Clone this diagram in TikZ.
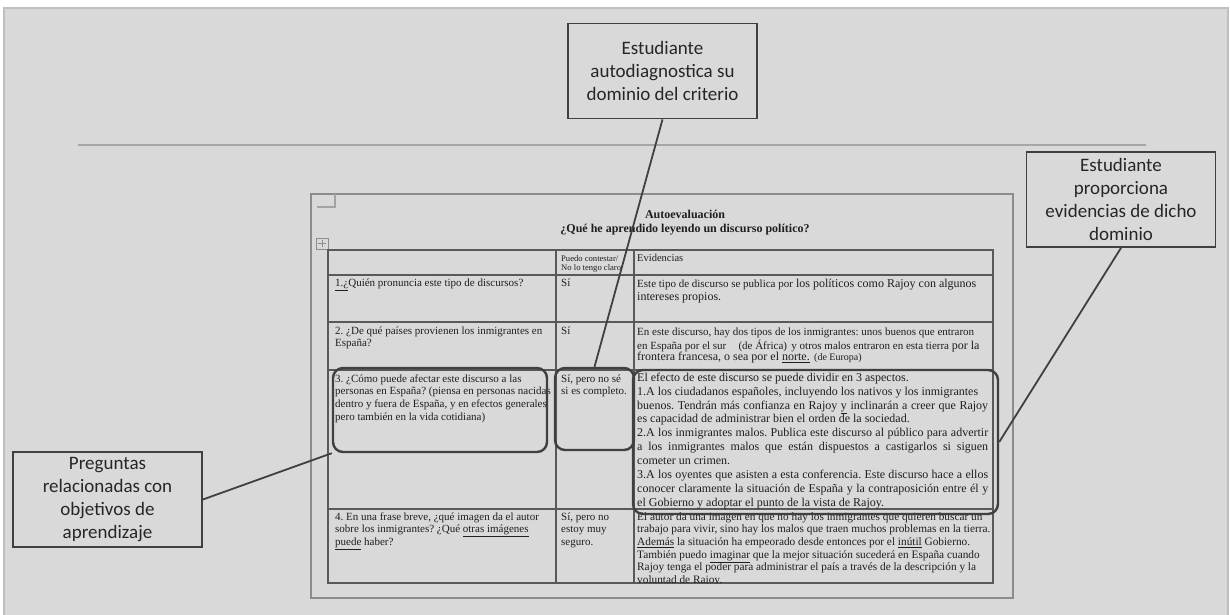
\documentclass[tikz,border=0pt]{standalone}
\usepackage{fontspec}
\setmainfont{Liberation Serif}
\newfontfamily\calloutfont{Carlito}
\definecolor{panel}{HTML}{D9D9D9}
\definecolor{panelrim}{HTML}{BFBFBF}
\definecolor{rulegray}{HTML}{A6A6A6}
\definecolor{pagegray}{HTML}{8C8C8C}
\definecolor{boxgray}{HTML}{404040}
\definecolor{gridgray}{HTML}{595959}
\definecolor{inkgray}{HTML}{1F1F1F}
\newcommand\qfont{\fontsize{11}{12.65}\selectfont}
\newcommand\jst[1]{\hbox to 351pt{#1}}
\frenchspacing

\begin{document}
\begin{tikzpicture}
  [
    x=1pt, y=-1pt,
    callout/.style   = {draw=boxgray, line width=1.8pt, fill=panel, inner sep=0pt,
                        minimum width=189pt, minimum height=95pt, align=center,
                        text=black!85, font=\calloutfont\fontsize{19}{22.8}\selectfont},
    hilite/.style    = {draw=boxgray, line width=2.4pt, rounded corners=10pt, inner sep=0pt},
    connector/.style = {draw=boxgray, line width=1.8pt},
    tablerule/.style = {draw=gridgray, line width=1.3pt},
    txtcell/.style   = {anchor=north west, inner sep=0pt, align=left},
  ]

  \tikzstyle{every node}=[text=inkgray]

  % the screen
  \useasboundingbox (0,0) rectangle (1230,615);
  \fill[white] (0,0) rectangle (1230,615);
  \draw[panelrim, fill=panel, line width=1.5pt] (4,8) rectangle (1228,618);
  \draw[rulegray, line width=1.5pt] (78,145) -- (1146,145);

  % the page
  \draw[pagegray, line width=1.3pt] (311,194) rectangle (1013,598);
  \draw[pagegray!80, line width=1.2pt] (335,194) -- (335,207) -- (317,207);
  \draw[pagegray, line width=1pt] (316,238) rectangle (328,249);
  \draw[pagegray, line width=1pt] (322,240) -- (322,247) (318,243.5) -- (326,243.5);

  \node (title) at (685,218) [anchor=base, font=\bfseries\fontsize{12}{14}\selectfont] {Autoevaluación};
  \node (subtitle) at (685,232) [anchor=base, font=\bfseries\fontsize{12}{14}\selectfont] {¿Qué he aprendido leyendo un discurso político?};

  % the table
  \def\colA{328}
  \def\colB{556}
  \def\colC{634}
  \def\colD{993}
  \draw[tablerule] (\colA,250) rectangle (\colD,583);
  \foreach \y in {275,322,370,509}
    \draw[tablerule] (\colA,\y) -- (\colD,\y);
  \foreach \x in {\colB,\colC}
    \draw[tablerule] (\x,250) -- (\x,583);

  \node (hdans) at (561,255.5) [txtcell, font=\fontsize{8.6}{8.7}\selectfont] {\strut Puedo contestar/\\No lo tengo claro};
  \node (hdev) at (637,261) [anchor=base west, inner sep=0pt, font=\fontsize{10.5}{12}\selectfont] {Evidencias};

  \node (q1) at (335,277.1) [txtcell, font=\qfont] {\strut\underline{1.¿}Quién pronuncia este tipo de discursos?};
  \node (q2) at (335,325.1) [txtcell, font=\qfont] {\strut 2. ¿De qué países provienen los inmigrantes en\\España?};
  \node (q3) at (335,373.1) [txtcell, font=\qfont] {\strut 3. ¿Cómo puede afectar este discurso a las\\personas en España? (piensa en personas nacidas\\dentro y fuera de España, y en efectos generales\\pero también en la vida cotidiana)};
  \node (q4) at (335,511.1) [txtcell, font=\qfont] {\strut 4. En una frase breve, ¿qué imagen da el autor\\sobre los inmigrantes? ¿Qué \underline{otras imágenes}\\\underline{puede} haber?};

  \node (a1) at (561,277.1) [txtcell, font=\qfont] {\strut Sí};
  \node (a2) at (561,325.1) [txtcell, font=\qfont] {\strut Sí};
  \node (a3) at (561,373.1) [txtcell, font=\qfont] {\strut Sí, pero no sé\\si es completo.};
  \node (a4) at (561,511.1) [txtcell, font=\qfont] {\strut Sí, pero no\\estoy muy\\seguro.};

  \node (e1) at (637,277.9) [txtcell, font=\fontsize{12}{13}\selectfont] {\strut{\fontsize{11}{13}\selectfont Este tipo de discurso se publica por} los políticos como Rajoy con algunos\\intereses propios.};
  \node (e2) at (637,326.7) [txtcell, font=\fontsize{11}{11.8}\selectfont] {\strut En este discurso, hay dos tipos de los inmigrantes: unos buenos que entraron\\en España por el sur\hspace{1.1em}(de África)\hspace{0.4em}y otros malos entraron en esta tierra {\fontsize{12}{11.8}\selectfont por la}\\{\fontsize{12}{11.8}\selectfont frontera francesa, o sea por el \underline{norte.}}\hspace{0.4em}{\fontsize{10}{11.8}\selectfont(de Europa)}};
  \node (e3) at (637,371.3) [txtcell, font=\fontsize{12}{13.9}\selectfont] {\strut El efecto de este discurso se puede dividir en 3 aspectos.\\
    1.A los ciudadanos españoles, incluyendo los nativos y los inmigrantes\\
    \jst{buenos. Tendrán más confianza en Rajoy \underline{y} inclinarán a creer que Rajoy}\\
    es capacidad de administrar bien el orden de la sociedad.\\
    \jst{2.A los inmigrantes malos. Publica este discurso al público para advertir}\\
    \jst{a los inmigrantes malos que están dispuestos a castigarlos si siguen}\\
    cometer un crimen.\\
    \jst{3.A los oyentes que asisten a esta conferencia. Este discurso hace a ellos}\\
    \jst{conocer claramente la situación de España y la contraposición entre él y}\\
    el Gobierno y adoptar el punto de la vista de Rajoy.};
  \begin{scope}
    \clip (\colC,509) rectangle (\colD,583);
    \node (e4) at (637,511.2) [txtcell, font=\fontsize{11.3}{12.6}\selectfont] {\strut El autor da una imagen en que no hay los inmigrantes que quieren buscar un\\
      trabajo para vivir, sino hay los malos que traen muchos problemas en la tierra.\\
      \underline{Además} la situación ha empeorado desde entonces por el \underline{inútil} Gobierno.\\
      También puedo \underline{imaginar} que la mejor situación sucederá en España cuando\\
      Rajoy tenga el poder para administrar el país a través de la descripción y la\\
      voluntad de Rajoy.};
  \end{scope}

  % the marked cells
  \node (qbox) at (440,410) [hilite, minimum width=214pt, minimum height=84pt] {};
  \node (selfbox) at (594.5,409) [hilite, minimum width=79pt, minimum height=82pt] {};
  \node (evbox) at (815.5,442) [hilite, minimum width=365pt, minimum height=144pt] {};

  % the callouts
  \node (crit) at (662.5,71) [callout] {Estudiante\\autodiagnostica su\\dominio del criterio};
  \node (evid) at (1121,199.5) [callout] {Estudiante\\proporciona\\evidencias de dicho\\dominio};
  \node (preg) at (107.5,499.5) [callout] {Preguntas\\relacionadas con\\objetivos de\\aprendizaje};

  \draw[connector] (crit.south) -- (selfbox.north);
  \draw[connector] (evid.south) -- (evbox.east);
  \draw[connector] (preg.east) -- (qbox.south west);

\end{tikzpicture}
\end{document}
